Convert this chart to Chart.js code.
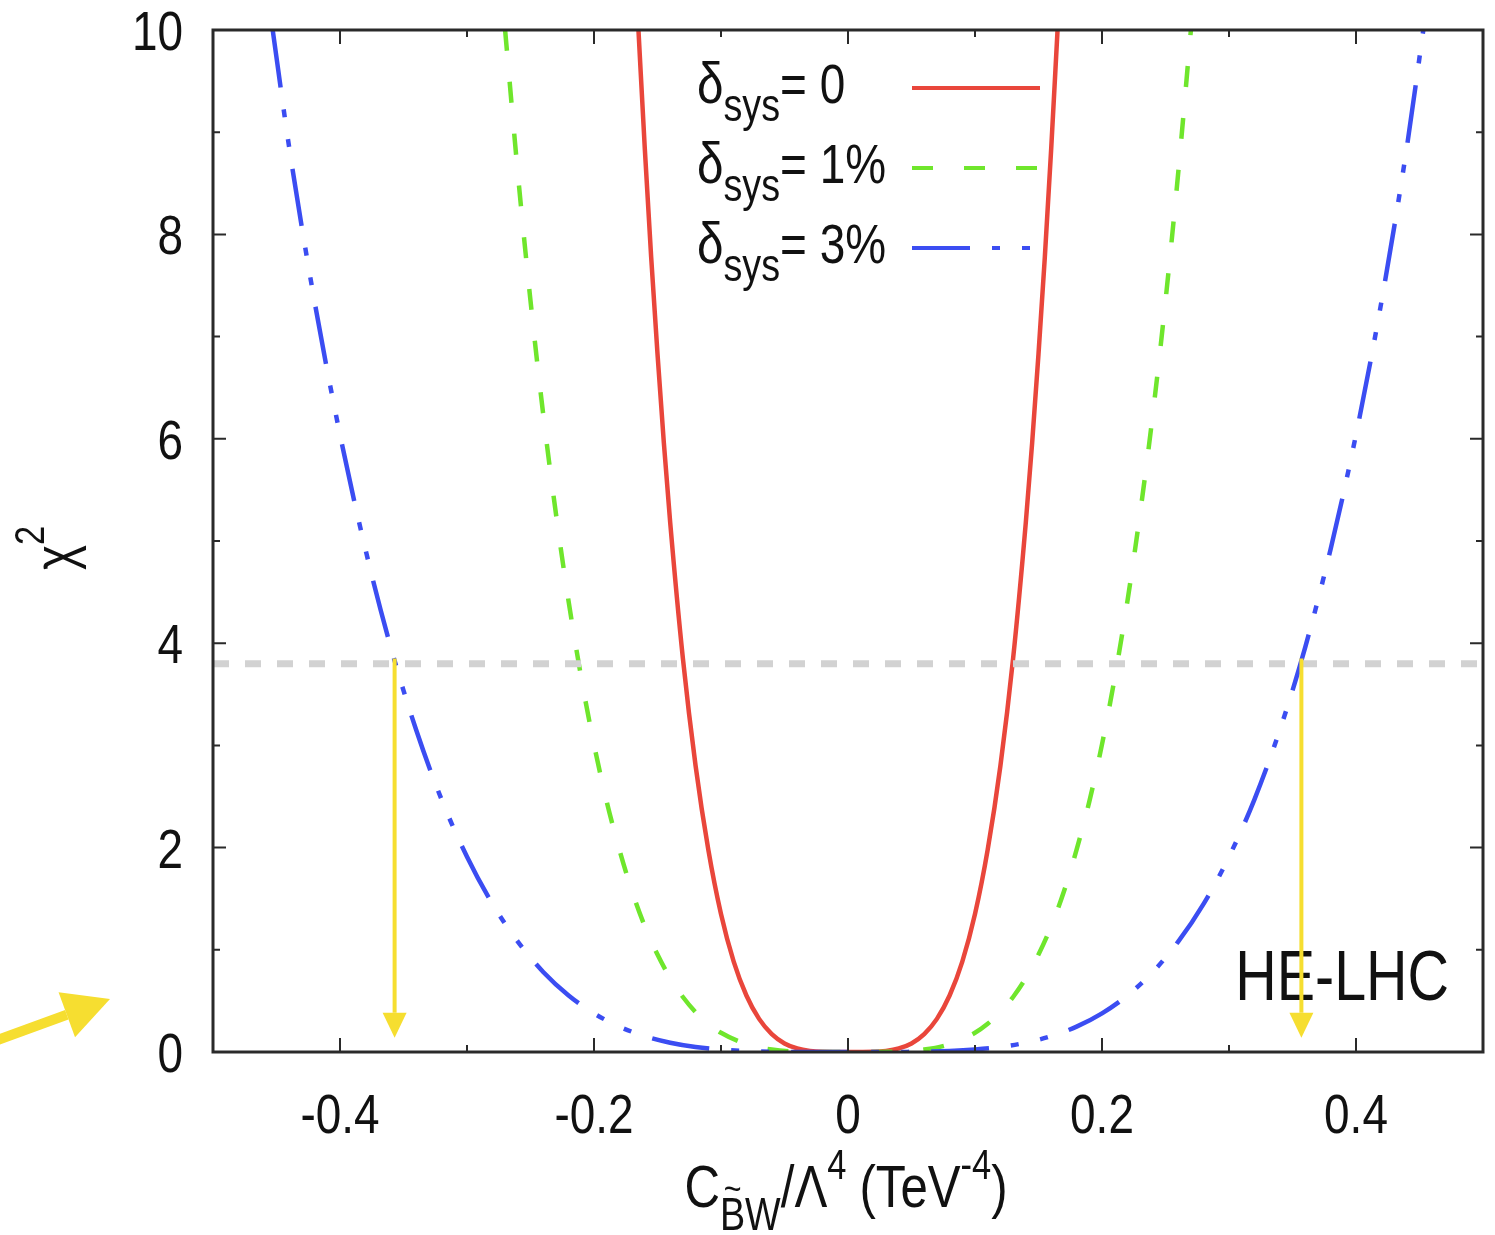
<!DOCTYPE html>
<html>
<head>
<meta charset="utf-8">
<title>chi2 HE-LHC</title>
<script src="https://cdn.jsdelivr.net/npm/chart.js@4.4.0/dist/chart.umd.min.js"></script>
<style>
  html, body { margin: 0; padding: 0; background: #fff; }
</style>
</head>
<body>
<canvas id="chi2Chart" width="1495" height="1235"></canvas>
<script>
// valores
const sysLevels = ['0', '1%', '3%'];

const redX = [-0.165, -0.16, -0.155, -0.15, -0.145, -0.14, -0.13, -0.12, -0.11, -0.10, -0.09, -0.08, -0.07, -0.06, -0.05, -0.04, -0.03, -0.02, 0,
              0.02, 0.03, 0.04, 0.05, 0.06, 0.07, 0.08, 0.09, 0.10, 0.11, 0.12, 0.13, 0.14, 0.145, 0.15, 0.155, 0.16, 0.165];
const redY = [10.0, 8.84, 7.78, 6.83, 5.96, 5.18, 3.85, 2.80, 1.98, 1.35, 0.885, 0.553, 0.324, 0.175, 0.084, 0.035, 0.011, 0.002, 0,
              0.002, 0.011, 0.035, 0.084, 0.175, 0.324, 0.553, 0.885, 1.35, 1.98, 2.80, 3.85, 5.18, 5.96, 6.83, 7.78, 8.84, 10.0];

const greenX = [-0.27, -0.26, -0.25, -0.24, -0.23, -0.22, -0.21, -0.20, -0.19, -0.18, -0.17, -0.16, -0.15, -0.14, -0.13, -0.12, -0.11, -0.10, -0.08, -0.06, -0.04, 0,
                0.04, 0.06, 0.08, 0.10, 0.11, 0.12, 0.13, 0.14, 0.15, 0.16, 0.17, 0.18, 0.19, 0.20, 0.21, 0.22, 0.23, 0.24, 0.25, 0.26, 0.27];
const greenY = [10.0, 8.60, 7.35, 6.24, 5.27, 4.41, 3.66, 3.01, 2.45, 1.98, 1.57, 1.23, 0.953, 0.723, 0.538, 0.390, 0.276, 0.188, 0.077, 0.024, 0.005, 0,
                0.005, 0.024, 0.077, 0.188, 0.276, 0.390, 0.538, 0.723, 0.953, 1.23, 1.57, 1.98, 2.45, 3.01, 3.66, 4.41, 5.27, 6.24, 7.35, 8.60, 10.0];

const blueX = [-0.453, -0.44, -0.42, -0.40, -0.38, -0.36, -0.34, -0.32, -0.30, -0.28, -0.26, -0.24, -0.22, -0.20, -0.18, -0.16, -0.14, -0.12, -0.10, -0.08, -0.05, 0,
               0.05, 0.08, 0.10, 0.12, 0.14, 0.16, 0.18, 0.20, 0.22, 0.24, 0.26, 0.28, 0.30, 0.32, 0.34, 0.36, 0.38, 0.40, 0.42, 0.44, 0.453];
const blueY = [10.0, 8.85, 7.34, 6.04, 4.92, 3.96, 3.15, 2.47, 1.91, 1.45, 1.08, 0.783, 0.553, 0.378, 0.248, 0.155, 0.091, 0.049, 0.024, 0.010, 0.0015, 0,
               0.0015, 0.010, 0.024, 0.049, 0.091, 0.155, 0.248, 0.378, 0.553, 0.783, 1.08, 1.45, 1.91, 2.47, 3.15, 3.96, 4.92, 6.04, 7.34, 8.85, 10.0];

// linea de corte (95% CL) y flechas
const cutX = [-0.5, 0.5];
const cutY = [3.8, 3.8];
const arrowX = [-0.357, 0.357];
const arrowTop = 3.85;
const arrowBottom = 0.14;

const xTickLabels = [-0.4, -0.2, 0, 0.2, 0.4];
const xTicksAll = [-0.4, -0.3, -0.2, -0.1, 0, 0.1, 0.2, 0.3, 0.4];
const yTickLabels = [0, 2, 4, 6, 8, 10];
const yTicksAll = [1, 2, 3, 4, 5, 6, 7, 8, 9];

const FAM = "'Liberation Sans', Arial, sans-serif";
const SX = 0.82; // letra estrecha, como en el original
const RED = '#e9463b';
const GREEN = '#6fe62c';
const BLUE = '#3b4df2';
const YELLOW = '#f6de30';
const BLUE_DASH = [58, 22, 8, 22, 8, 22];
const GREEN_DASH = [21, 31];

function zip(xs, ys) {
  return xs.map((x, i) => ({ x: x, y: ys[i] }));
}

// texto estrecho: align = 'left' | 'center' | 'right'
function narrowText(ctx, text, size, x, y, align) {
  ctx.font = size + 'px ' + FAM;
  const w = ctx.measureText(text).width * SX;
  if (align === 'center') x -= w / 2;
  if (align === 'right') x -= w;
  ctx.save();
  ctx.translate(x, y);
  ctx.scale(SX, 1);
  ctx.textAlign = 'left';
  ctx.fillText(text, 0, 0);
  ctx.restore();
  return w;
}

// texto con subindices / superindices
function drawRich(ctx, parts, x, baseY, align) {
  parts.forEach(p => {
    ctx.font = p.size + 'px ' + FAM;
    p.w = ctx.measureText(p.text).width * SX;
  });
  const total = parts.reduce((s, p) => s + p.w + (p.gap || 0), 0);
  if (align === 'center') x -= total / 2;
  parts.forEach(p => {
    narrowText(ctx, p.text, p.size, x, baseY + (p.dy || 0), 'left');
    if (p.tilde) {
      ctx.font = p.size + 'px ' + FAM;
      const bw = ctx.measureText('B').width * SX;
      const ts = Math.round(p.size * 0.8);
      ctx.font = ts + 'px ' + FAM;
      const tw = ctx.measureText('~').width * SX;
      narrowText(ctx, '~', ts, x + (bw - tw) / 2, baseY + (p.dy || 0) - p.size * 0.62, 'left');
    }
    x += p.w + (p.gap || 0);
  });
}

function arrow(ctx, x1, y1, x2, y2, width, headLen, headHalf) {
  const ang = Math.atan2(y2 - y1, x2 - x1);
  const bx = x2 - headLen * Math.cos(ang);
  const by = y2 - headLen * Math.sin(ang);
  ctx.lineWidth = width;
  ctx.beginPath();
  ctx.moveTo(x1, y1);
  ctx.lineTo(bx, by);
  ctx.stroke();
  ctx.beginPath();
  ctx.moveTo(x2, y2);
  ctx.lineTo(bx + headHalf * Math.sin(ang), by - headHalf * Math.cos(ang));
  ctx.lineTo(bx - headHalf * Math.sin(ang), by + headHalf * Math.cos(ang));
  ctx.closePath();
  ctx.fill();
}

// marco con ticks hacia dentro (estilo gnuplot)
const frameTicks = {
  id: 'frameTicks',
  afterDatasetsDraw(chart) {
    const { ctx, chartArea: a, scales: { x, y } } = chart;
    ctx.save();
    ctx.textBaseline = 'alphabetic';

    // texto HE-LHC (debajo de las flechas)
    ctx.fillStyle = '#111';
    narrowText(ctx, 'HE-LHC', 70, a.right - 34, a.bottom - 52, 'right');

    // flechas amarillas
    ctx.strokeStyle = YELLOW;
    ctx.fillStyle = YELLOW;
    arrowX.forEach(v => {
      const px = x.getPixelForValue(v);
      arrow(ctx, px, y.getPixelForValue(arrowTop), px, y.getPixelForValue(arrowBottom), 4, 25, 12);
    });

    ctx.strokeStyle = '#2a2a2a';
    ctx.lineWidth = 2;
    ctx.beginPath();
    xTicksAll.forEach(v => {
      const px = x.getPixelForValue(v);
      const len = xTickLabels.includes(v) ? 14 : 7;
      ctx.moveTo(px, a.bottom); ctx.lineTo(px, a.bottom - len);
      ctx.moveTo(px, a.top); ctx.lineTo(px, a.top + len);
    });
    yTicksAll.forEach(v => {
      const py = y.getPixelForValue(v);
      const len = yTickLabels.includes(v) ? 13 : 7;
      ctx.moveTo(a.left, py); ctx.lineTo(a.left + len, py);
      ctx.moveTo(a.right, py); ctx.lineTo(a.right - len, py);
    });
    ctx.stroke();
    ctx.lineWidth = 3;
    ctx.strokeRect(a.left, a.top, a.width, a.height);

    // etiquetas de los ejes
    ctx.fillStyle = '#111';
    xTickLabels.forEach(v => {
      narrowText(ctx, String(v), 56, x.getPixelForValue(v), a.bottom + 81, 'center');
    });
    yTickLabels.forEach(v => {
      narrowText(ctx, String(v), 56, a.left - 30, y.getPixelForValue(v) + 20, 'right');
    });
    ctx.restore();
  },
  afterDraw(chart) {
    const { ctx, chartArea: a } = chart;
    ctx.save();
    ctx.fillStyle = '#111';
    ctx.textBaseline = 'alphabetic';

    // leyenda
    const styles = [
      { color: RED, dash: [] },
      { color: GREEN, dash: GREEN_DASH },
      { color: BLUE, dash: BLUE_DASH }
    ];
    sysLevels.forEach((lab, i) => {
      const cy = a.top + 58 + i * 80;
      ctx.fillStyle = '#111';
      drawRich(ctx, [
        { text: 'δ', size: 58 },
        { text: 'sys', size: 46, dy: 18 },
        { text: '= ' + lab, size: 56 }
      ], a.left + 484, cy + 15, 'left');
      ctx.strokeStyle = styles[i].color;
      ctx.lineWidth = 4;
      ctx.setLineDash(styles[i].dash);
      ctx.beginPath();
      ctx.moveTo(a.left + 699, cy);
      ctx.lineTo(a.left + 827, cy);
      ctx.stroke();
      ctx.setLineDash([]);
    });

    // titulo eje x
    ctx.fillStyle = '#111';
    drawRich(ctx, [
      { text: 'C', size: 60 },
      { text: 'BW', size: 46, dy: 23, tilde: true },
      { text: '/Λ', size: 60 },
      { text: '4', size: 42, dy: -28, gap: 13 },
      { text: '(TeV', size: 60 },
      { text: '-4', size: 42, dy: -28 },
      { text: ')', size: 60 }
    ], (a.left + a.right) / 2 - 2, a.bottom + 155, 'center');

    // titulo eje y
    ctx.translate(74, 548);
    ctx.rotate(-Math.PI / 2);
    drawRich(ctx, [
      { text: 'χ', size: 58 },
      { text: '2', size: 42, dy: -30 }
    ], 0, 0, 'center');
    ctx.setTransform(1, 0, 0, 1, 0, 0);

    // flecha exterior
    ctx.strokeStyle = YELLOW;
    ctx.fillStyle = YELLOW;
    arrow(ctx, a.left - 218, a.bottom - 11, a.left - 103, a.bottom - 53, 10, 46, 24);
    ctx.restore();
  }
};

const chi2Chart = new Chart(document.getElementById('chi2Chart').getContext('2d'), {
  type: 'line',
  data: {
    datasets: [
      {
        label: 'cut',
        data: zip(cutX, cutY),
        borderColor: '#d2d2d2',
        borderWidth: 7,
        borderDash: [16, 16]
      },
      {
        label: 'δsys= 3%',
        data: zip(blueX, blueY),
        borderColor: BLUE,
        borderDash: BLUE_DASH
      },
      {
        label: 'δsys= 1%',
        data: zip(greenX, greenY),
        borderColor: GREEN,
        borderDash: GREEN_DASH
      },
      {
        label: 'δsys= 0',
        data: zip(redX, redY),
        borderColor: RED
      }
    ]
  },
  options: {
    responsive: false,
    animation: false,
    layout: { padding: { top: 30, right: 12, left: 0, bottom: 0 } },
    plugins: { legend: { display: false }, tooltip: { enabled: false } },
    elements: {
      point: { radius: 0 },
      line: { borderWidth: 4.5, cubicInterpolationMode: 'monotone', fill: false }
    },
    scales: {
      x: {
        type: 'linear',
        min: -0.5,
        max: 0.5,
        grid: { display: false, drawTicks: false },
        border: { display: false },
        afterBuildTicks: s => { s.ticks = xTickLabels.map(v => ({ value: v })); },
        afterFit: s => { s.height = 183; },
        ticks: { display: false }
      },
      y: {
        type: 'linear',
        min: 0,
        max: 10,
        grid: { display: false, drawTicks: false },
        border: { display: false },
        afterBuildTicks: s => { s.ticks = yTickLabels.map(v => ({ value: v })); },
        afterFit: s => { s.width = 213; },
        ticks: { display: false }
      }
    }
  },
  plugins: [frameTicks]
});
</script>
</body>
</html>
